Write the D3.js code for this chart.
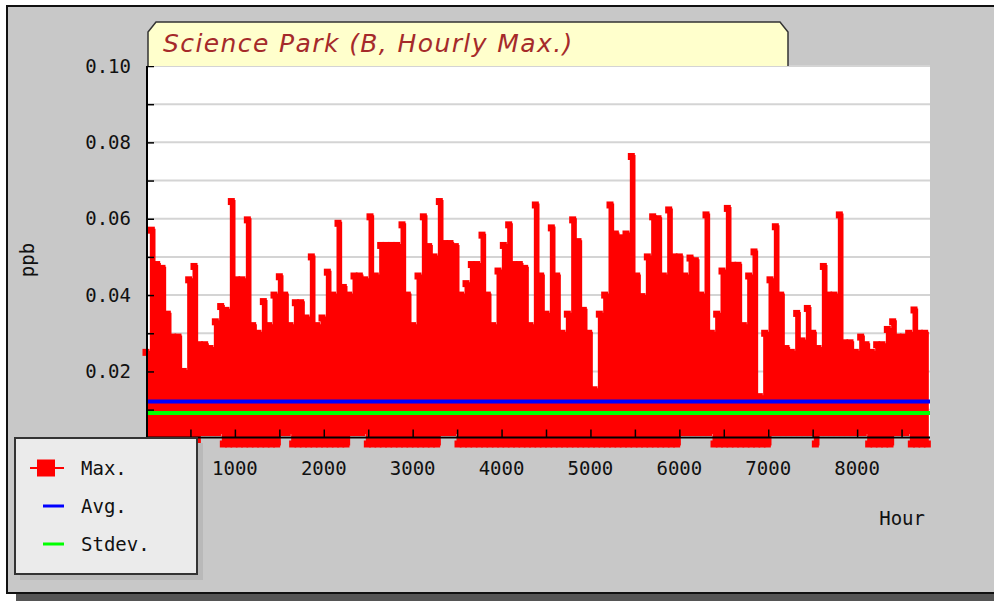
<!DOCTYPE html>
<html>
<head>
<meta charset="utf-8">
<script src="https://cdn.jsdelivr.net/npm/d3@7"></script>
<style>
  body { margin: 0; background: #fff; }
</style>
</head>
<body>
<div id="chart"></div>
<script>
// hourly max readings, one envelope value per 60 hour block
var hourStep = 60;
var maxValues = [
  0.025, 0.057, 0.048, 0.047, 0.035, 0.029, 0.029, 0.020, 0.044, 0.0475,
  0.027, 0.027, 0.026, 0.033, 0.037, 0.036, 0.0645, 0.044, 0.044, 0.0597,
  0.032, 0.030, 0.0383, 0.032, 0.040, 0.0448, 0.040, 0.032, 0.038, 0.038,
  0.034, 0.050, 0.032, 0.034, 0.046, 0.040, 0.0588, 0.042, 0.040, 0.045,
  0.045, 0.044, 0.0605, 0.045, 0.053, 0.053, 0.053, 0.053, 0.0584, 0.040,
  0.032, 0.045, 0.0605, 0.0527, 0.050, 0.0645, 0.0535, 0.0535, 0.0527, 0.040,
  0.043, 0.048, 0.048, 0.0557, 0.040, 0.032, 0.0463, 0.053, 0.0584, 0.048,
  0.048, 0.047, 0.032, 0.0636, 0.045, 0.035, 0.0576, 0.045, 0.030, 0.035,
  0.0597, 0.054, 0.036, 0.030, 0.0152, 0.035, 0.040, 0.0636, 0.056, 0.055,
  0.056, 0.0763, 0.045, 0.0396, 0.050, 0.0605, 0.060, 0.045, 0.0623, 0.050,
  0.050, 0.045, 0.0497, 0.049, 0.040, 0.061, 0.030, 0.035, 0.0463, 0.0627,
  0.0478, 0.0478, 0.032, 0.045, 0.0513, 0.0134, 0.030, 0.044, 0.0579, 0.040,
  0.026, 0.025, 0.0352, 0.028, 0.0365, 0.030, 0.026, 0.0475, 0.040, 0.040,
  0.061, 0.0275, 0.0275, 0.025, 0.029, 0.027, 0.025, 0.027, 0.027, 0.031,
  0.033, 0.029, 0.029, 0.030, 0.0361, 0.030, 0.030
];
// lowest reading inside each block
var minValues = [
  0.001, 0.001, 0.001, 0.001, 0.001, 0.001, 0.001, 0.001, 0.001, 0.001,
  0.004, 0.004, 0.004, 0.004, 0.001, 0.001, 0.001, 0.001, 0.001, 0.001,
  0.001, 0.001, 0.001, 0.001, 0.001, 0.004, 0.004, 0.001, 0.001, 0.001,
  0.001, 0.001, 0.001, 0.001, 0.001, 0.001, 0.001, 0.001, 0.004, 0.004,
  0.004, 0.001, 0.001, 0.001, 0.001, 0.001, 0.001, 0.001, 0.001, 0.001,
  0.001, 0.001, 0.001, 0.001, 0.001, 0.004, 0.004, 0.004, 0.001, 0.001,
  0.001, 0.001, 0.001, 0.001, 0.001, 0.001, 0.001, 0.001, 0.001, 0.001,
  0.001, 0.001, 0.001, 0.001, 0.001, 0.001, 0.001, 0.001, 0.001, 0.001,
  0.001, 0.001, 0.001, 0.001, 0.001, 0.001, 0.001, 0.001, 0.001, 0.001,
  0.001, 0.001, 0.001, 0.001, 0.001, 0.001, 0.001, 0.001, 0.001, 0.001,
  0.004, 0.004, 0.004, 0.004, 0.004, 0.004, 0.001, 0.001, 0.001, 0.001,
  0.001, 0.001, 0.001, 0.001, 0.001, 0.001, 0.001, 0.004, 0.004, 0.004,
  0.004, 0.004, 0.004, 0.004, 0.004, 0.001, 0.004, 0.004, 0.004, 0.004,
  0.004, 0.004, 0.004, 0.004, 0.004, 0.001, 0.001, 0.001, 0.001, 0.001,
  0.004, 0.004, 0.004, 0.001, 0.001, 0.001, 0.001
];
var avgValue = 0.0121;
var stdevValue = 0.0091;

var yTicks = [0.02, 0.04, 0.06, 0.08, 0.10];
var yMinorTicks = [0.01, 0.03, 0.05, 0.07, 0.09];
var xTicks = [1000, 2000, 3000, 4000, 5000, 6000, 7000, 8000];
var xMinorTicks = [500, 1500, 2500, 3500, 4500, 5500, 6500, 7500, 8500];
var legendItems = [
  {name: "Max.", color: "#ff0000", marker: true},
  {name: "Avg.", color: "#0000ff", marker: false},
  {name: "Stdev.", color: "#00ff00", marker: false}
];

var totalWidth = 994, totalHeight = 601;
var plot = {left: 147, right: 930, top: 66, bottom: 437.5};
var mono = "'DejaVu Sans Mono', monospace";

var svg = d3.select("#chart").append("svg")
    .attr("width", totalWidth)
    .attr("height", totalHeight);

// outer frame with shadow
svg.append("rect").attr("x", 16).attr("y", 594).attr("width", 990).attr("height", 10).attr("fill", "#555");
svg.append("rect")
    .attr("x", 7).attr("y", 6).attr("width", 995).attr("height", 587)
    .attr("fill", "#c8c8c8").attr("stroke", "#111").attr("stroke-width", 2);

var x = d3.scaleLinear().domain([0, 8820]).range([146, plot.right]);
var y = d3.scaleLinear().domain([0.0027, 0.10]).range([plot.bottom, plot.top]);

// plot background
svg.append("rect")
    .attr("x", plot.left).attr("y", plot.top)
    .attr("width", plot.right - plot.left).attr("height", plot.bottom - plot.top)
    .attr("fill", "#fff");

// grid lines
svg.append("g").selectAll("line")
    .data(yTicks.concat(yMinorTicks))
    .enter().append("line")
    .attr("x1", plot.left).attr("x2", plot.right)
    .attr("y1", function(d) { return y(d); })
    .attr("y2", function(d) { return y(d); })
    .attr("stroke", "#d4d4d4").attr("stroke-width", 2);

// build the Max. series: block peak followed by block low
var series = [];
maxValues.forEach(function(v, i) {
  series.push({h: i * hourStep, v: v});
  series.push({h: i * hourStep + hourStep / 2, v: minValues[i]});
});

// so dense that the hourly line looks like steps at this size
var line = d3.line()
    .curve(d3.curveStepAfter)
    .x(function(d) { return x(d.h); })
    .y(function(d) { return y(d.v); });

svg.append("path")
    .datum(series)
    .attr("d", line)
    .attr("fill", "none")
    .attr("stroke", "#ff0000")
    .attr("stroke-width", 3);

svg.append("g").selectAll("rect")
    .data(series)
    .enter().append("rect")
    .attr("x", function(d) { return x(d.h) - 3.5; })
    .attr("y", function(d) { return y(d.v) - 3.5; })
    .attr("width", 7).attr("height", 7)
    .attr("fill", "#ff0000");

// avg and stdev lines
[[avgValue, "#0000ff"], [stdevValue, "#00ff00"]].forEach(function(s) {
  svg.append("line")
      .attr("x1", plot.left).attr("x2", plot.right)
      .attr("y1", y(s[0])).attr("y2", y(s[0]))
      .attr("stroke", s[1]).attr("stroke-width", 4);
});

// y axis
var yAxis = d3.axisRight(y).tickValues(yTicks.concat(yMinorTicks)).tickSize(7).tickFormat("");
svg.append("g")
    .attr("transform", "translate(" + plot.left + ",0)")
    .call(yAxis)
    .call(function(g) {
      g.select(".domain").attr("stroke", "#000").attr("stroke-width", 2)
        .attr("d", "M0," + plot.top + "V" + plot.bottom);
      g.selectAll(".tick line").attr("stroke", "#000").attr("stroke-width", 1.5);
    });
svg.append("g").selectAll("text")
    .data(yTicks)
    .enter().append("text")
    .attr("x", 131)
    .attr("y", function(d) { return y(d); })
    .attr("dy", "0.35em")
    .attr("text-anchor", "end")
    .style("font-family", mono).style("font-size", "19px")
    .attr("fill", "#111")
    .text(function(d) { return d3.format(".2f")(d); });

// x axis
var xAxis = d3.axisTop(x).tickValues(xTicks.concat(xMinorTicks)).tickSize(8).tickFormat("");
svg.append("g")
    .attr("transform", "translate(0," + plot.bottom + ")")
    .call(xAxis)
    .call(function(g) {
      g.select(".domain").attr("stroke", "#000").attr("stroke-width", 2)
        .attr("d", "M" + plot.left + ",0H" + plot.right);
      g.selectAll(".tick line").attr("stroke", "#000").attr("stroke-width", 1.5);
    });
svg.append("g").selectAll("text")
    .data(xTicks)
    .enter().append("text")
    .attr("x", function(d) { return x(d); })
    .attr("y", 468)
    .attr("dy", "0.35em")
    .attr("text-anchor", "middle")
    .style("font-family", mono).style("font-size", "19px")
    .attr("fill", "#111")
    .text(function(d) { return d; });

// axis titles
svg.append("text")
    .attr("x", 925).attr("y", 518).attr("dy", "0.35em")
    .attr("text-anchor", "end")
    .style("font-family", mono).style("font-size", "19px")
    .attr("fill", "#111")
    .text("Hour");
svg.append("text")
    .attr("transform", "translate(27,260) rotate(-90)")
    .attr("dy", "0.35em")
    .attr("text-anchor", "middle")
    .style("font-family", mono).style("font-size", "19px")
    .attr("fill", "#111")
    .text("ppb");

// title tab
svg.append("path")
    .attr("d", "M148,66 L148,32 L156,22 L780,22 L788,32 L788,66")
    .attr("fill", "#ffffcc").attr("stroke", "#333").attr("stroke-width", 1.5);
svg.append("text")
    .attr("x", 163).attr("y", 52)
    .style("font-family", "'DejaVu Sans', sans-serif")
    .style("font-style", "italic")
    .style("font-size", "25px")
    .style("letter-spacing", "1.4px")
    .attr("fill", "#a52a2a")
    .text("Science Park (B, Hourly Max.)");

// legend
var legend = svg.append("g");
legend.append("rect").attr("x", 20).attr("y", 443).attr("width", 183).attr("height", 137).attr("fill", "#b9b9b9");
legend.append("rect").attr("x", 15).attr("y", 438).attr("width", 182).attr("height", 136)
    .attr("fill", "#ebebeb").attr("stroke", "#333").attr("stroke-width", 2);
legendItems.forEach(function(item, i) {
  var ly = 468 + i * 38;
  legend.append("line")
      .attr("x1", item.marker ? 30 : 43).attr("x2", 64)
      .attr("y1", ly).attr("y2", ly)
      .attr("stroke", item.color).attr("stroke-width", item.marker ? 2 : 3);
  if (item.marker) {
    legend.append("rect").attr("x", 37).attr("y", ly - 8.5).attr("width", 18).attr("height", 17)
        .attr("fill", item.color);
  }
  legend.append("text")
      .attr("x", 81).attr("y", ly).attr("dy", "0.35em")
      .style("font-family", mono).style("font-size", "19px")
      .attr("fill", "#111")
      .text(item.name);
});
</script>
</body>
</html>
